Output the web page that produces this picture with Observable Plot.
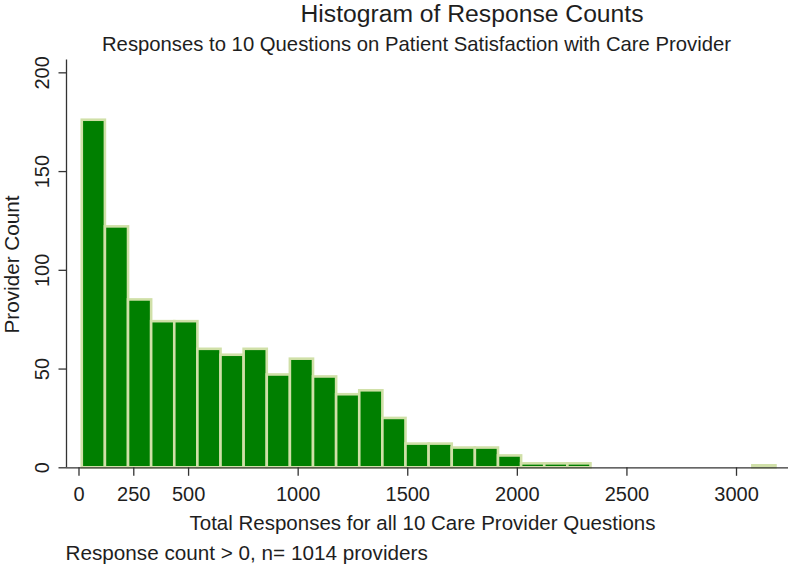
<!DOCTYPE html>
<html>
<head>
<meta charset="utf-8">
<script src="https://cdn.jsdelivr.net/npm/d3@7"></script>
<script src="https://cdn.jsdelivr.net/npm/@observablehq/plot@0.6"></script>
<style>
  html, body { margin: 0; padding: 0; background: #fff; }
  #chart svg { display: block; }
</style>
</head>
<body>
<div id="chart"></div>
<script>
// Histogram definition (Stata default: 30 bins from min to max)
const binStart = 15;
const binWidth = 105.5;
const counts = [176, 122, 85, 74, 74, 60, 57, 60, 47, 55, 46, 37, 39, 25, 12,
                12, 10, 10, 6, 2, 2, 2, 0, 0, 0, 0, 0, 0, 0, 1];
const xTicks = [0, 250, 500, 1000, 1500, 2000, 2500, 3000];
const yTicks = [0, 50, 100, 150, 200];
const titleText = "Histogram of Response Counts";
const subtitleText = "Responses to 10 Questions on Patient Satisfaction with Care Provider";
const xLabel = "Total Responses for all 10 Care Provider Questions";
const yLabel = "Provider Count";
const captionText = "Response count > 0, n= 1014 providers";

const bins = counts.map((c, i) => ({
  x1: binStart + i * binWidth,
  x2: binStart + (i + 1) * binWidth,
  count: c
})).filter(d => d.count > 0);

const xDomain = [-57, 3237.2];
const yDomain = [0, 206.5];
const font = "'Liberation Sans', Arial, Helvetica, sans-serif";
const ink = "#1e1e1e";

const chart = Plot.plot({
  width: 792,
  height: 570,
  marginLeft: 66,
  marginRight: 4,
  marginTop: 59.5,
  marginBottom: 102.7,
  style: { fontFamily: font, color: ink, background: "#fff", overflow: "visible" },
  x: { domain: xDomain },
  y: { domain: yDomain },
  marks: [
    Plot.rectY(bins, {
      x1: "x1", x2: "x2", y: "count",
      fill: "#007f00", stroke: "#d0e0a8", strokeWidth: 2.6, inset: 0
    }),
    Plot.ruleY([0], { stroke: "#333", strokeWidth: 1.3 }),
    Plot.ruleX([xDomain[0]], { stroke: "#333", strokeWidth: 1.3 }),
    Plot.axisX({
      ticks: xTicks, tickSize: 8.5, tickPadding: 10.7, fontSize: 20,
      tickFormat: d => String(d), label: null, stroke: "#333", strokeWidth: 1.3
    }),
    Plot.axisY({
      ticks: yTicks, tickSize: 7.5, tickPadding: 10, tickRotate: -90, fontSize: 20,
      tickFormat: d => String(d), label: null, stroke: "#333", strokeWidth: 1.3
    }),
    Plot.text([titleText], {
      text: d => d, frameAnchor: "top", dx: 44.5, dy: -38.5,
      lineAnchor: "bottom", textAnchor: "middle", fontSize: 24.7, fill: ink
    }),
    Plot.text([subtitleText], {
      text: d => d, frameAnchor: "top", dx: -11, dy: -9.5,
      lineAnchor: "bottom", textAnchor: "middle", fontSize: 20.3, fill: ink
    }),
    Plot.text([xLabel], {
      text: d => d, frameAnchor: "bottom", dx: -5, dy: 61.7,
      lineAnchor: "bottom", textAnchor: "middle", fontSize: 20.5, fill: ink
    }),
    Plot.text([yLabel], {
      text: d => d, frameAnchor: "left", dx: -47.7, dy: 0.6, rotate: -90,
      lineAnchor: "bottom", textAnchor: "middle", fontSize: 20.7, fill: ink
    }),
    Plot.text([captionText], {
      text: d => d, frameAnchor: "bottom-left", dx: -1, dy: 91.7,
      lineAnchor: "bottom", textAnchor: "start", fontSize: 20.7, fill: ink
    })
  ]
});
document.getElementById("chart").appendChild(chart);
</script>
</body>
</html>
